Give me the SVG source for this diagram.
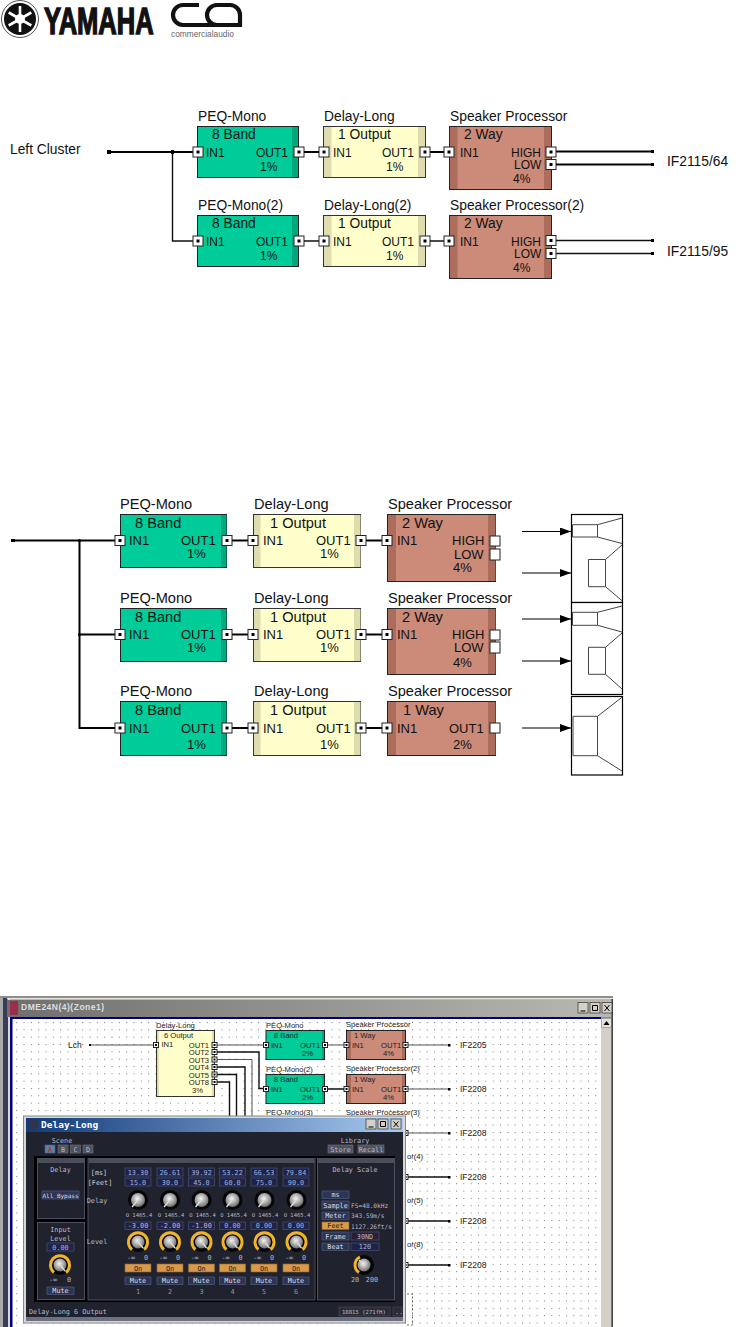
<svg xmlns="http://www.w3.org/2000/svg" width="739" height="1327" viewBox="0 0 739 1327">
<style>
text{font-family:"Liberation Sans",Arial,sans-serif;fill:#111}
.a text{font-size:13.8px}.b text{font-size:14.6px}.c text{font-size:7.6px;fill:#222}
.a .s{font-size:12px}.b .s{font-size:13px}
.peq{fill:#00cc9a;stroke:#222}.pb{fill:#00a87e}.dly{fill:#ffffcc;stroke:#333}.db{fill:#dfdcae}.spk{fill:#cc8a78;stroke:#222}.sb{fill:#ad6d5c}
.p{fill:#fff;stroke:#222;stroke-width:1}.d{fill:#000}
.w{fill:none;stroke:#000;stroke-width:2}.w1{fill:none;stroke:#111;stroke-width:1.4}.g{fill:none;stroke:#555;stroke-width:1}.bk{fill:none;stroke:#000;stroke-width:1}
.hn{fill:none;stroke:#444;stroke-width:1}.box{fill:#fff;stroke:#000;stroke-width:1.2}
.m text{font-family:"DejaVu Sans Mono",monospace;font-size:6.8px;fill:#b9bcc8}
.v{fill:#1f2347;stroke:#4a5078;stroke-width:.7}.btn{fill:#2b3556;stroke:#59618a;stroke-width:.6}.on{fill:#d8994a;stroke:#8a6a3a;stroke-width:.6}.gb{fill:#4d5160;stroke:#777;stroke-width:.6}
.pn{fill:#20222e;stroke:#4c4f5e;stroke-width:1}.st{fill:#4b4d58}
.ctl{fill:#d4d0c8;stroke:#333;stroke-width:.7}
</style>
<defs>
<marker id="ah" markerWidth="12" markerHeight="8" refX="11" refY="4" orient="auto" markerUnits="userSpaceOnUse"><path d="M0 0L11 4L0 8Z" fill="#000"/></marker>
<pattern id="grid" x="522" y="1022" width="7.33" height="7.33" patternUnits="userSpaceOnUse"><rect width="1" height="1" fill="#777"/></pattern>
<linearGradient id="tb" x1="0" x2="1" y1="0" y2="0"><stop offset="0" stop-color="#6f6f6f"/><stop offset="1" stop-color="#b8b8b4"/></linearGradient>
<linearGradient id="pt" x1="0" x2="1" y1="0" y2="0"><stop offset="0" stop-color="#123a78"/><stop offset="1" stop-color="#a6caf0"/></linearGradient>
<radialGradient id="si" cx=".45" cy=".4" r=".6"><stop offset="0" stop-color="#f4f4f4"/><stop offset="1" stop-color="#6d6d6d"/></radialGradient>
<g id="pt1"><rect class="p" x="-5" y="-5" width="10" height="10"/><rect class="d" x="-1.5" y="-1.5" width="3" height="3"/></g>
<g id="pt2"><rect class="p" x="-2.5" y="-2.5" width="5" height="5"/><rect class="d" x="-1" y="-1" width="2" height="2"/></g>
<g id="kd"><circle r="10" fill="#050505"/><circle r="7" fill="url(#si)"/><path d="M-1 1L-6 7" stroke="#ddd" stroke-width="1.4"/></g>
<g id="kl"><circle r="10" fill="#050505"/><path d="M-6 7.5A9.500 9.500 0 1 1 6 7.500" fill="none" stroke="#f0b428" stroke-width="3"/><circle r="6.5" fill="url(#si)"/><path d="M1 1L5 6" stroke="#ddd" stroke-width="1.4"/></g>
<g id="kb"><circle r="10" fill="#050505"/><path d="M-5 7.500A9 9 0 0 1 -4 -8" fill="none" stroke="#f0b428" stroke-width="3"/><circle r="6.5" fill="url(#si)"/><path d="M0 0L-5 -5" stroke="#ddd" stroke-width="1.4"/></g>
</defs>
<rect width="739" height="1327" fill="#fff"/>

<g id="logo-yamaha">
<circle cx="20" cy="19" r="18.500" fill="#fff" stroke="#555" stroke-width="1"/><circle cx="20" cy="19" r="16" fill="#111"/>
<g stroke="#fff" stroke-width="2.600" fill="none"><path d="M20 6V32M8.700 12.500L31.300 25.500M31.300 12.500L8.700 25.500"/></g><circle cx="20" cy="19" r="5" fill="#fff"/>
<text transform="translate(44 34) scale(.69 1)" font-size="37" font-weight="700" style="fill:#111;stroke:#111;stroke-width:1.500">YAMAHA</text>
</g>
<g id="logo-ca">
<path d="M199 5H183A10 10 0 0 0 183 25H240V15A10 10 0 0 0 230 5H217A10 10 0 0 0 217 25" fill="none" stroke="#111" stroke-width="4.200"/>
<text transform="translate(171 36.500) scale(.98 1)" font-size="8.500" style="fill:#666">commercialaudio</text>
</g>

<!-- Diagram 1 -->
<g id="connectors-1">
<path class="w" d="M109 152H197M298 152H324M425 152H449M551 151.500H652M551 164.500H652"/>
<path class="w1" d="M172.500 152V241H197M298 241H324M425 241H449M551 240.500H652M551 253.500H652"/>
<rect class="d" x="107" y="150" width="4" height="4"/><rect class="d" x="171" y="150" width="3" height="4"/>
<rect class="d" x="651" y="150" width="3" height="3"/><rect class="d" x="651" y="163" width="3" height="3"/><rect class="d" x="651" y="239" width="3" height="3"/><rect class="d" x="651" y="252" width="3" height="3"/>
</g>
<g id="n1-label" class="a"><text x="10" y="154">Left Cluster</text></g>
<g id="n1-peq1" class="a"><text x="198" y="121">PEQ-Mono</text><rect class="peq" x="197.500" y="126.500" width="101" height="51"/><rect class="pb" x="292" y="127" width="6" height="50"/><text x="212" y="139">8 Band</text><text class="s" x="206" y="157">IN1</text><text class="s" x="256" y="157">OUT1</text><text class="s" x="260" y="171">1%</text><use href="#pt1" x="198" y="152"/><use href="#pt1" x="299" y="152"/></g>
<g id="n1-dly1" class="a"><text x="324" y="121">Delay-Long</text><rect class="dly" x="323.500" y="126.500" width="102" height="51"/><rect class="db" x="324" y="127" width="7.500" height="50"/><rect class="db" x="418" y="127" width="7" height="50"/><text x="338" y="139">1 Output</text><text class="s" x="333" y="157">IN1</text><text class="s" x="382" y="157">OUT1</text><text class="s" x="386" y="171">1%</text><use href="#pt1" x="324" y="152"/><use href="#pt1" x="425" y="152"/></g>
<g id="n1-spk1" class="a"><text x="450" y="121">Speaker Processor</text><rect class="spk" x="449.500" y="126.500" width="102" height="63"/><rect class="sb" x="450" y="127" width="7.500" height="62"/><rect class="sb" x="544" y="127" width="7" height="62"/><text x="464" y="139">2 Way</text><text class="s" x="460" y="157">IN1</text><text class="s" x="511" y="157">HIGH</text><text class="s" x="514" y="169">LOW</text><text class="s" x="513" y="183">4%</text><use href="#pt1" x="449" y="152"/><use href="#pt1" x="551" y="152"/><use href="#pt1" x="551" y="164.500"/></g>
<g id="n1-peq2" class="a"><text x="198" y="210">PEQ-Mono(2)</text><rect class="peq" x="197.500" y="215.500" width="101" height="51"/><rect class="pb" x="292" y="216" width="6" height="50"/><text x="212" y="228">8 Band</text><text class="s" x="206" y="246">IN1</text><text class="s" x="256" y="246">OUT1</text><text class="s" x="260" y="260">1%</text><use href="#pt1" x="198" y="241"/><use href="#pt1" x="299" y="241"/></g>
<g id="n1-dly2" class="a"><text x="324" y="210">Delay-Long(2)</text><rect class="dly" x="323.500" y="215.500" width="102" height="51"/><rect class="db" x="324" y="216" width="7.500" height="50"/><rect class="db" x="418" y="216" width="7" height="50"/><text x="338" y="228">1 Output</text><text class="s" x="333" y="246">IN1</text><text class="s" x="382" y="246">OUT1</text><text class="s" x="386" y="260">1%</text><use href="#pt1" x="324" y="241"/><use href="#pt1" x="425" y="241"/></g>
<g id="n1-spk2" class="a"><text x="450" y="210">Speaker Processor(2)</text><rect class="spk" x="449.500" y="215.500" width="102" height="63"/><rect class="sb" x="450" y="216" width="7.500" height="62"/><rect class="sb" x="544" y="216" width="7" height="62"/><text x="464" y="228">2 Way</text><text class="s" x="460" y="246">IN1</text><text class="s" x="511" y="246">HIGH</text><text class="s" x="514" y="258">LOW</text><text class="s" x="513" y="272">4%</text><use href="#pt1" x="449" y="241"/><use href="#pt1" x="551" y="240.500"/><use href="#pt1" x="551" y="253.500"/></g>
<g id="n1-if" class="a"><text x="667" y="166">IF2115/64</text><text x="667" y="256">IF2115/95</text></g>

<!-- Diagram 2 -->
<g id="connectors-2">
<path class="w" d="M12 540.500H120M79.500 540.500V728H120M79.500 634.500H120"/>
<path class="w" d="M227 540.500H254M361 540.500H388M227 634.500H254M361 634.500H388M227 728H254M361 728H388"/>
<rect class="d" x="11" y="539" width="4" height="3"/><circle class="d" cx="79.500" cy="540.500" r="1.500"/><circle class="d" cx="79.500" cy="634.500" r="1.500"/>
<g stroke="#000" stroke-width="1.200" fill="none">
<path d="M522 531.500H571" marker-end="url(#ah)"/><path d="M522 573H571" marker-end="url(#ah)"/><path d="M571 573H588.500"/>
<path d="M522 619H571" marker-end="url(#ah)"/><path d="M522 661H571" marker-end="url(#ah)"/><path d="M571 661H588.500"/>
<path d="M522 728H571" marker-end="url(#ah)"/></g>
</g>
<g id="n2-peq1" class="b"><text x="120" y="509">PEQ-Mono</text><rect class="peq" x="120.500" y="514.500" width="106" height="53"/><rect class="pb" x="221" y="515" width="5.500" height="52"/><text x="135" y="528">8 Band</text><text class="s" x="129" y="545">IN1</text><text class="s" x="181" y="545">OUT1</text><text class="s" x="187" y="558">1%</text><use href="#pt1" x="120" y="540.500"/><use href="#pt1" x="227" y="540.500"/></g>
<g id="n2-dly1" class="b"><text x="254" y="509">Delay-Long</text><rect class="dly" x="253.500" y="514.500" width="107" height="53"/><rect class="db" x="254" y="515" width="6.500" height="52"/><rect class="db" x="354" y="515" width="6.500" height="52"/><text x="270" y="528">1 Output</text><text class="s" x="263" y="545">IN1</text><text class="s" x="316" y="545">OUT1</text><text class="s" x="320" y="558">1%</text><use href="#pt1" x="253" y="540.500"/><use href="#pt1" x="361" y="540.500"/></g>
<g id="n2-spk1" class="b"><text x="388" y="509">Speaker Processor</text><rect class="spk" x="387.500" y="514.500" width="108" height="67"/><rect class="sb" x="388" y="515" width="8" height="66"/><rect class="sb" x="488" y="515" width="7.500" height="66"/><text x="402" y="528">2 Way</text><text class="s" x="397" y="545">IN1</text><text class="s" x="452" y="545">HIGH</text><text class="s" x="454" y="559">LOW</text><text class="s" x="453" y="572">4%</text><use href="#pt1" x="387" y="540.500"/><rect class="p" x="490" y="536" width="10" height="10"/><rect class="p" x="490" y="549" width="10" height="11"/></g>
<g id="n2-peq2" class="b"><text x="120" y="603">PEQ-Mono</text><rect class="peq" x="120.500" y="608.500" width="106" height="53"/><rect class="pb" x="221" y="609" width="5.500" height="52"/><text x="135" y="622">8 Band</text><text class="s" x="129" y="639">IN1</text><text class="s" x="181" y="639">OUT1</text><text class="s" x="187" y="652">1%</text><use href="#pt1" x="120" y="634.500"/><use href="#pt1" x="227" y="634.500"/></g>
<g id="n2-dly2" class="b"><text x="254" y="603">Delay-Long</text><rect class="dly" x="253.500" y="608.500" width="107" height="53"/><rect class="db" x="254" y="609" width="6.500" height="52"/><rect class="db" x="354" y="609" width="6.500" height="52"/><text x="270" y="622">1 Output</text><text class="s" x="263" y="639">IN1</text><text class="s" x="316" y="639">OUT1</text><text class="s" x="320" y="652">1%</text><use href="#pt1" x="253" y="634.500"/><use href="#pt1" x="361" y="634.500"/></g>
<g id="n2-spk2" class="b"><text x="388" y="603">Speaker Processor</text><rect class="spk" x="387.500" y="608.500" width="108" height="66"/><rect class="sb" x="388" y="609" width="8" height="65"/><rect class="sb" x="488" y="609" width="7.500" height="65"/><text x="402" y="622">2 Way</text><text class="s" x="397" y="639">IN1</text><text class="s" x="452" y="639">HIGH</text><text class="s" x="454" y="652">LOW</text><text class="s" x="453" y="667">4%</text><use href="#pt1" x="387" y="634.500"/><rect class="p" x="490" y="630" width="10" height="10"/><rect class="p" x="490" y="642" width="10" height="11"/></g>
<g id="n2-peq3" class="b"><text x="120" y="696">PEQ-Mono</text><rect class="peq" x="120.500" y="701.500" width="106" height="54"/><rect class="pb" x="221" y="702" width="5.500" height="53"/><text x="135" y="715">8 Band</text><text class="s" x="129" y="733">IN1</text><text class="s" x="181" y="733">OUT1</text><text class="s" x="187" y="749">1%</text><use href="#pt1" x="120" y="728"/><use href="#pt1" x="227" y="728"/></g>
<g id="n2-dly3" class="b"><text x="254" y="696">Delay-Long</text><rect class="dly" x="253.500" y="701.500" width="107" height="54"/><rect class="db" x="254" y="702" width="6.500" height="53"/><rect class="db" x="354" y="702" width="6.500" height="53"/><text x="270" y="715">1 Output</text><text class="s" x="263" y="733">IN1</text><text class="s" x="316" y="733">OUT1</text><text class="s" x="320" y="749">1%</text><use href="#pt1" x="253" y="728"/><use href="#pt1" x="361" y="728"/></g>
<g id="n2-spk3" class="b"><text x="388" y="696">Speaker Processor</text><rect class="spk" x="387.500" y="701.500" width="108" height="54"/><rect class="sb" x="388" y="702" width="8" height="53"/><rect class="sb" x="488" y="702" width="7.500" height="53"/><text x="403" y="715">1 Way</text><text class="s" x="397" y="733">IN1</text><text class="s" x="449" y="733">OUT1</text><text class="s" x="453" y="749">2%</text><use href="#pt1" x="387" y="728"/><rect class="p" x="490" y="723" width="10" height="10"/></g>
<g id="speaker-1"><rect class="box" x="571.500" y="514.500" width="51" height="88"/><path class="hn" d="M572.500 524.700H597.500V537H572.500ZM597.500 524.700L622 518M597.500 537L622 543.500M588.500 559.500H605.500V586.700H588.500ZM605.500 559.500L622 545M605.500 586.700L622 600.700"/></g>
<g id="speaker-2"><rect class="box" x="571.500" y="602.500" width="51" height="92"/><path class="hn" d="M572.500 612.300H597.500V625.300H572.500ZM597.500 612.300L622 606M597.500 625.300L622 632M588.500 647.300H605.500V674.300H588.500ZM605.500 647.300L622 633M605.500 674.300L622 689"/></g>
<g id="speaker-3"><rect class="box" x="571.500" y="696.500" width="51" height="78.500"/><path class="hn" d="M573 716.300H597.500V755.700H573ZM597.500 716.300L622 697.300M597.500 755.700L622 771"/></g>

<!-- Screenshot -->
<g id="window">
<rect x="0" y="996" width="613" height="331" fill="#8d8d8d"/>
<rect x="0" y="998" width="3" height="329" fill="#a9a9a9"/><rect x="3" y="998" width="5" height="329" fill="#3a3b58"/><rect x="8" y="998" width="2" height="329" fill="#d8d8d8"/>
<rect x="7" y="998" width="606" height="1.500" fill="#e8e6d8"/><rect x="7" y="1000" width="605" height="17" fill="url(#tb)"/>
<rect x="10" y="1017" width="591" height="310" fill="#fff"/>
<rect x="10" y="1017" width="591" height="310" fill="url(#grid)"/>
<rect x="10" y="1017" width="591" height="2" fill="#00007a"/><rect x="10" y="1017" width="2.500" height="310" fill="#00007a"/>
<rect x="601" y="1018" width="10.500" height="309" fill="#d4d0c8"/><rect x="601.500" y="1018.500" width="10" height="9" fill="#e4e1da" stroke="#888" stroke-width=".6"/><path d="M606.500 1021L603.500 1025H609.500Z" fill="#000"/>
<rect x="611.500" y="999" width="1.500" height="328" fill="#444"/>
<rect x="10" y="1001" width="8" height="14" fill="#9c2e4c"/>
<text x="21" y="1010" font-size="8.500" font-weight="700" style="fill:#dedede;letter-spacing:.5px">DME24N(4)(Zone1)</text>
<rect class="ctl" x="578" y="1002.500" width="10" height="10.500"/><rect class="ctl" x="590" y="1002.500" width="10" height="10.500"/><rect class="ctl" x="602" y="1002.500" width="10" height="10.500"/>
<path d="M580.500 1011H585.500M592.500 1005.500H597.500V1010.500H592.500ZM604.500 1005L609.500 1011M609.500 1005L604.500 1011" fill="none" stroke="#000" stroke-width="1"/>
</g>
<g id="connectors-3">
<path class="g" d="M90 1045H154M217 1045H265M405 1045H449M217 1059.500H252V1120M324 1045H346M405 1089H449M405 1133H449"/>
<path class="w1" d="M217 1052H259V1088.500H265M217 1067H245V1120M217 1074.500H236.500V1120M217 1082H229.500V1120M324 1089H346"/>
<path class="w1" d="M405 1177H449M405 1221H449M405 1265H449"/>
<g class="d"><rect x="89" y="1044" width="2" height="2"/><rect x="448" y="1044" width="2.500" height="2.500"/><rect x="448" y="1088" width="2.500" height="2.500"/><rect x="448" y="1132" width="2.500" height="2.500"/><rect x="448" y="1176" width="2.500" height="2.500"/><rect x="448" y="1220" width="2.500" height="2.500"/><rect x="448" y="1264" width="2.500" height="2.500"/></g>
</g>
<g id="n3-lch" class="c"><text x="68" y="1048" style="font-size:8.500px">Lch</text></g>
<g id="n3-delay" class="c"><text x="156" y="1028">Delay-Long</text><rect class="dly" x="156.500" y="1030.500" width="58" height="66"/><rect class="db" x="157" y="1031" width="2" height="65"/><rect class="db" x="212" y="1031" width="2" height="65"/><text x="164" y="1038">6 Output</text><text x="161.500" y="1047">IN1</text>
<g text-anchor="end"><text x="209" y="1047.500">OUT1</text><text x="209" y="1055">OUT2</text><text x="209" y="1062.500">OUT3</text><text x="209" y="1070">OUT4</text><text x="209" y="1077.500">OUT5</text><text x="209" y="1084.500">OUT8</text></g><text x="192" y="1092.500">3%</text>
<use href="#pt2" x="156" y="1045"/><use href="#pt2" x="214.500" y="1045"/><use href="#pt2" x="214.500" y="1052"/><use href="#pt2" x="214.500" y="1059.500"/><use href="#pt2" x="214.500" y="1067"/><use href="#pt2" x="214.500" y="1074.500"/><use href="#pt2" x="214.500" y="1082"/></g>
<g id="n3-peq1" class="c"><text x="266" y="1028">PEQ-Mono</text><rect class="peq" x="266" y="1030.500" width="58.500" height="29"/><rect class="pb" x="322" y="1031" width="2" height="28"/><text x="274" y="1038">8 Band</text><text x="271" y="1047.500">IN1</text><text x="300" y="1047.500">OUT1</text><text x="302" y="1055.500">2%</text><use href="#pt2" x="266" y="1045"/><use href="#pt2" x="325" y="1045"/></g>
<g id="n3-peq2" class="c"><text x="266" y="1072">PEQ-Mono(2)</text><rect class="peq" x="266" y="1074.500" width="58.500" height="29"/><rect class="pb" x="322" y="1075" width="2" height="28"/><text x="274" y="1082">8 Band</text><text x="271" y="1091.500">IN1</text><text x="300" y="1091.500">OUT1</text><text x="302" y="1099.500">2%</text><use href="#pt2" x="266" y="1089"/><use href="#pt2" x="325" y="1089"/></g>
<g id="n3-peq3" class="c"><text x="266" y="1115">PEQ-Mono(3)</text></g>
<g id="n3-spk1" class="c"><text x="346" y="1027">Speaker Processor</text><rect class="spk" x="346.500" y="1030.500" width="59" height="29"/><rect class="sb" x="347" y="1031" width="4" height="28"/><rect class="sb" x="402" y="1031" width="3" height="28"/><text x="354" y="1038">1 Way</text><text x="352" y="1047.500">IN1</text><text x="381" y="1047.500">OUT1</text><text x="383" y="1055.500">4%</text><use href="#pt2" x="346.500" y="1045"/><use href="#pt2" x="405.500" y="1045"/></g>
<g id="n3-spk2" class="c"><text x="346" y="1071">Speaker Processor(2)</text><rect class="spk" x="346.500" y="1074.500" width="59" height="29"/><rect class="sb" x="347" y="1075" width="4" height="28"/><rect class="sb" x="402" y="1075" width="3" height="28"/><text x="354" y="1082">1 Way</text><text x="352" y="1091.500">IN1</text><text x="381" y="1091.500">OUT1</text><text x="383" y="1099.500">4%</text><use href="#pt2" x="346.500" y="1089"/><use href="#pt2" x="405.500" y="1089"/></g>
<g id="n3-spk3" class="c"><text x="346" y="1115">Speaker Processor(3)</text><use href="#pt2" x="405.500" y="1133"/></g>
<g id="n3-spk4" class="c"><text x="407" y="1159">or(4)</text><use href="#pt2" x="405.500" y="1177"/></g>
<g id="n3-spk5" class="c"><text x="407" y="1203">or(5)</text><use href="#pt2" x="405.500" y="1221"/></g>
<g id="n3-spk6" class="c"><text x="407" y="1247">or(8)</text><use href="#pt2" x="405.500" y="1265"/></g>
<g id="n3-if" class="c"><text x="460" y="1048" style="font-size:8.500px">IF2205</text><text x="460" y="1092" style="font-size:8.500px">IF2208</text><text x="460" y="1136" style="font-size:8.500px">IF2208</text><text x="460" y="1180" style="font-size:8.500px">IF2208</text><text x="460" y="1224" style="font-size:8.500px">IF2208</text><text x="460" y="1268" style="font-size:8.500px">IF2208</text></g>
<path id="selection" d="M407 1294H412.500V1325H407" fill="none" stroke="#444" stroke-width=".8" stroke-dasharray="2 2"/>

<g id="popup" class="m">
<rect x="23.500" y="1116" width="382" height="207" fill="#d8d8d8" stroke="#888" stroke-width="1"/>
<rect x="26" y="1118" width="377" height="14.500" fill="url(#pt)"/>
<rect x="26" y="1132" width="377" height="185" fill="#20222e"/>
<rect x="26" y="1317" width="377" height="4" fill="#6d7080"/>
<rect x="29" y="1119.500" width="9" height="10" fill="#30344c"/>
<text x="41" y="1128" style="font-size:9.500px;font-weight:700;fill:#fff">Delay-Long</text>
<rect class="ctl" x="366" y="1119" width="10" height="10"/><rect class="ctl" x="378" y="1119" width="10" height="10"/><rect class="ctl" x="391" y="1119" width="10" height="10"/>
<path d="M368.500 1127H373.500M380.500 1121.500H385.500V1126.500H380.500ZM393.500 1121.500L398.500 1127M398.500 1121.500L393.500 1127" fill="none" stroke="#000" stroke-width="1"/>

<rect x="34" y="1156" width="361" height="146" fill="#000"/>
<rect class="pn" x="37.500" y="1158.500" width="47" height="60"/><rect class="st" x="38" y="1159" width="46" height="4"/>
<rect class="pn" x="37.500" y="1222.500" width="47" height="77"/>
<rect class="pn" x="88" y="1158.500" width="227" height="141.500"/><rect class="st" x="88.500" y="1159" width="226" height="4"/>
<rect class="pn" x="317.500" y="1158.500" width="77" height="141.500"/><rect class="st" x="318" y="1159" width="76" height="4"/>

<text x="62" y="1143" text-anchor="middle">Scene</text>
<rect class="btn" x="45" y="1145" width="10" height="8" style="fill:#5b7fa8"/><rect class="gb" x="58" y="1145" width="10" height="8"/><rect class="gb" x="70.500" y="1145" width="10" height="8"/><rect class="gb" x="83" y="1145" width="10" height="8"/>
<text x="50" y="1151.500" text-anchor="middle" style="fill:#c22">A</text><text x="63" y="1151.500" text-anchor="middle">B</text><text x="75.500" y="1151.500" text-anchor="middle">C</text><text x="88" y="1151.500" text-anchor="middle">D</text>
<text x="355" y="1143" text-anchor="middle">Library</text>
<rect class="gb" x="328" y="1145" width="25" height="8"/><rect class="gb" x="358" y="1145" width="26" height="8"/><text x="340.500" y="1151.500" text-anchor="middle">Store</text><text x="371" y="1151.500" text-anchor="middle">Recall</text>

<text x="60.500" y="1172" text-anchor="middle">Delay</text>
<rect class="btn" x="42" y="1191" width="37" height="8"/><text x="60.500" y="1197.500" text-anchor="middle" style="fill:#ddd;font-size:6px">All Bypass</text>
<text x="60.500" y="1232" text-anchor="middle">Input</text><text x="60.500" y="1241" text-anchor="middle">Level</text>
<rect class="v" x="47" y="1243" width="27" height="8"/><text x="60.500" y="1249.500" text-anchor="middle" style="fill:#9fb4e8">0.00</text>
<use href="#kl" x="60" y="1265"/><text x="53" y="1282" text-anchor="middle">-∞</text><text x="69" y="1282" text-anchor="middle">0</text>
<rect class="btn" x="47" y="1287" width="27" height="7.500"/><text x="60.500" y="1293" text-anchor="middle" style="fill:#ddd">Mute</text>

<text x="99" y="1175" text-anchor="middle" style="fill:#ccc">[ms]</text><text x="100" y="1185" text-anchor="middle" style="fill:#ccc">[Feet]</text>
<text x="97" y="1203" text-anchor="middle">Delay</text><text x="97" y="1244" text-anchor="middle">Level</text>

<g id="ch1"><rect class="v" x="125" y="1168" width="26" height="8"/><text x="138" y="1174.500" text-anchor="middle" style="fill:#9fb4e8">13.30</text><rect class="v" x="125" y="1178" width="26" height="8"/><text x="138" y="1184.500" text-anchor="middle" style="fill:#9fb4e8">15.0</text><use href="#kd" x="138" y="1200"/><text x="139" y="1217" text-anchor="middle" style="font-size:5.500px">O 1465.4</text><rect class="v" x="125" y="1222" width="26" height="7.500"/><text x="138" y="1228" text-anchor="middle" style="fill:#e8a8d0">-3.00</text><use href="#kl" x="138" y="1242"/><text x="131" y="1260" text-anchor="middle">-∞</text><text x="146" y="1260" text-anchor="middle">0</text><rect class="on" x="125" y="1264" width="26" height="8"/><text x="138" y="1270.500" text-anchor="middle" style="fill:#222">On</text><rect class="btn" x="125" y="1277" width="26" height="7.500"/><text x="138" y="1283" text-anchor="middle" style="fill:#ddd">Mute</text><text x="138" y="1294" text-anchor="middle" style="fill:#999">1</text></g>
<g id="ch2"><rect class="v" x="157" y="1168" width="26" height="8"/><text x="170" y="1174.500" text-anchor="middle" style="fill:#9fb4e8">26.61</text><rect class="v" x="157" y="1178" width="26" height="8"/><text x="170" y="1184.500" text-anchor="middle" style="fill:#9fb4e8">30.0</text><use href="#kd" x="170" y="1200"/><text x="171" y="1217" text-anchor="middle" style="font-size:5.500px">O 1465.4</text><rect class="v" x="157" y="1222" width="26" height="7.500"/><text x="170" y="1228" text-anchor="middle" style="fill:#e8a8d0">-2.00</text><use href="#kl" x="170" y="1242"/><text x="163" y="1260" text-anchor="middle">-∞</text><text x="178" y="1260" text-anchor="middle">0</text><rect class="on" x="157" y="1264" width="26" height="8"/><text x="170" y="1270.500" text-anchor="middle" style="fill:#222">On</text><rect class="btn" x="157" y="1277" width="26" height="7.500"/><text x="170" y="1283" text-anchor="middle" style="fill:#ddd">Mute</text><text x="170" y="1294" text-anchor="middle" style="fill:#999">2</text></g>
<g id="ch3"><rect class="v" x="188.500" y="1168" width="26" height="8"/><text x="201.500" y="1174.500" text-anchor="middle" style="fill:#9fb4e8">39.92</text><rect class="v" x="188.500" y="1178" width="26" height="8"/><text x="201.500" y="1184.500" text-anchor="middle" style="fill:#9fb4e8">45.0</text><use href="#kd" x="201.500" y="1200"/><text x="202.500" y="1217" text-anchor="middle" style="font-size:5.500px">O 1465.4</text><rect class="v" x="188.500" y="1222" width="26" height="7.500"/><text x="201.500" y="1228" text-anchor="middle" style="fill:#e8a8d0">-1.00</text><use href="#kl" x="201.500" y="1242"/><text x="194.500" y="1260" text-anchor="middle">-∞</text><text x="209.500" y="1260" text-anchor="middle">0</text><rect class="on" x="188.500" y="1264" width="26" height="8"/><text x="201.500" y="1270.500" text-anchor="middle" style="fill:#222">On</text><rect class="btn" x="188.500" y="1277" width="26" height="7.500"/><text x="201.500" y="1283" text-anchor="middle" style="fill:#ddd">Mute</text><text x="201.500" y="1294" text-anchor="middle" style="fill:#999">3</text></g>
<g id="ch4"><rect class="v" x="219.500" y="1168" width="26" height="8"/><text x="232.500" y="1174.500" text-anchor="middle" style="fill:#9fb4e8">53.22</text><rect class="v" x="219.500" y="1178" width="26" height="8"/><text x="232.500" y="1184.500" text-anchor="middle" style="fill:#9fb4e8">60.0</text><use href="#kd" x="232.500" y="1200"/><text x="233.500" y="1217" text-anchor="middle" style="font-size:5.500px">O 1465.4</text><rect class="v" x="219.500" y="1222" width="26" height="7.500"/><text x="232.500" y="1228" text-anchor="middle" style="fill:#9fb4e8">0.00</text><use href="#kl" x="232.500" y="1242"/><text x="225.500" y="1260" text-anchor="middle">-∞</text><text x="240.500" y="1260" text-anchor="middle">0</text><rect class="on" x="219.500" y="1264" width="26" height="8"/><text x="232.500" y="1270.500" text-anchor="middle" style="fill:#222">On</text><rect class="btn" x="219.500" y="1277" width="26" height="7.500"/><text x="232.500" y="1283" text-anchor="middle" style="fill:#ddd">Mute</text><text x="232.500" y="1294" text-anchor="middle" style="fill:#999">4</text></g>
<g id="ch5"><rect class="v" x="251" y="1168" width="26" height="8"/><text x="264" y="1174.500" text-anchor="middle" style="fill:#9fb4e8">66.53</text><rect class="v" x="251" y="1178" width="26" height="8"/><text x="264" y="1184.500" text-anchor="middle" style="fill:#9fb4e8">75.0</text><use href="#kd" x="264.500" y="1200"/><text x="265" y="1217" text-anchor="middle" style="font-size:5.500px">O 1465.4</text><rect class="v" x="251" y="1222" width="26" height="7.500"/><text x="264" y="1228" text-anchor="middle" style="fill:#9fb4e8">0.00</text><use href="#kl" x="264.500" y="1242"/><text x="257" y="1260" text-anchor="middle">-∞</text><text x="272" y="1260" text-anchor="middle">0</text><rect class="on" x="251" y="1264" width="26" height="8"/><text x="264" y="1270.500" text-anchor="middle" style="fill:#222">On</text><rect class="btn" x="251" y="1277" width="26" height="7.500"/><text x="264" y="1283" text-anchor="middle" style="fill:#ddd">Mute</text><text x="264" y="1294" text-anchor="middle" style="fill:#999">5</text></g>
<g id="ch6"><rect class="v" x="283" y="1168" width="26" height="8"/><text x="296" y="1174.500" text-anchor="middle" style="fill:#9fb4e8">79.84</text><rect class="v" x="283" y="1178" width="26" height="8"/><text x="296" y="1184.500" text-anchor="middle" style="fill:#9fb4e8">90.0</text><use href="#kd" x="296.500" y="1200"/><text x="297" y="1217" text-anchor="middle" style="font-size:5.500px">O 1465.4</text><rect class="v" x="283" y="1222" width="26" height="7.500"/><text x="296" y="1228" text-anchor="middle" style="fill:#9fb4e8">0.00</text><use href="#kl" x="296.500" y="1242"/><text x="289" y="1260" text-anchor="middle">-∞</text><text x="304" y="1260" text-anchor="middle">0</text><rect class="on" x="283" y="1264" width="26" height="8"/><text x="296" y="1270.500" text-anchor="middle" style="fill:#222">On</text><rect class="btn" x="283" y="1277" width="26" height="7.500"/><text x="296" y="1283" text-anchor="middle" style="fill:#ddd">Mute</text><text x="296" y="1294" text-anchor="middle" style="fill:#999">6</text></g>

<text x="355" y="1172" text-anchor="middle">Delay  Scale</text>
<rect class="btn" x="322" y="1191" width="27" height="7.500"/><text x="335.500" y="1197" text-anchor="middle" style="fill:#ddd">ms</text>
<rect class="btn" x="322" y="1201" width="27" height="8"/><text x="335.500" y="1207.500" text-anchor="middle" style="fill:#ddd">Sample</text><text x="351" y="1208" style="font-size:6.200px">FS=48.0kHz</text>
<rect class="btn" x="322" y="1212" width="27" height="7.500"/><text x="335.500" y="1218" text-anchor="middle" style="fill:#ddd">Meter</text><text x="351" y="1218" style="font-size:6.200px">343.59m/s</text>
<rect class="on" x="322" y="1222" width="27" height="7.500"/><text x="335.500" y="1228" text-anchor="middle" style="fill:#222">Feet</text><text x="351" y="1228.500" style="font-size:6.200px">1127.26ft/s</text>
<rect class="btn" x="322" y="1232" width="27" height="8"/><text x="335.500" y="1238.500" text-anchor="middle" style="fill:#ddd">Frame</text><rect class="v" x="351" y="1232" width="28" height="8" style="fill:#2a1d36"/><text x="365" y="1238.500" text-anchor="middle">30ND</text>
<rect class="btn" x="322" y="1243" width="27" height="7.500"/><text x="335.500" y="1249" text-anchor="middle" style="fill:#ddd">Beat</text><rect class="v" x="351" y="1243" width="28" height="7.500"/><text x="365" y="1249" text-anchor="middle" style="fill:#9fb4e8">120</text>
<use href="#kb" x="364" y="1265"/><text x="355" y="1282" text-anchor="middle">20</text><text x="372" y="1282" text-anchor="middle">200</text>

<text x="29" y="1314">Delay-Long  6 Output</text>
<rect x="339" y="1307" width="51" height="9" fill="#2a2c38" stroke="#555" stroke-width=".5"/><text x="342" y="1314" style="font-size:5.600px">18815 (271fH)</text>
<rect x="393" y="1307" width="9" height="9" fill="#2a2c38" stroke="#555" stroke-width=".5"/><text x="395" y="1314">..</text>
</g>
</svg>
